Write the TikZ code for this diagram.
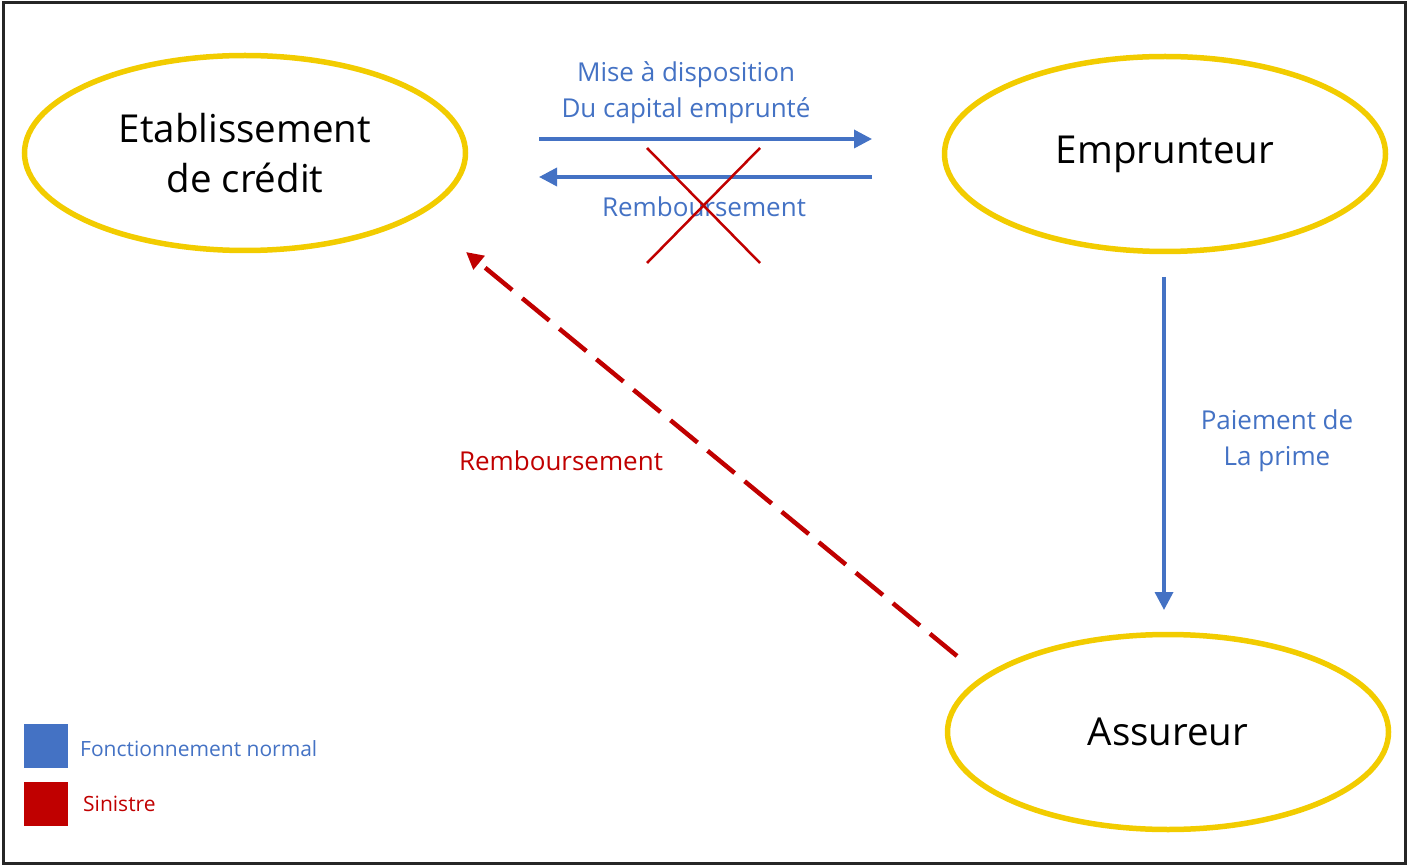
\documentclass[tikz,border=0pt]{standalone}
\usepackage{fontspec}
\setmainfont{Open Sans}
\usetikzlibrary{shapes.geometric,arrows.meta}
\definecolor{gold}{RGB}{242,204,0}
\definecolor{myblue}{RGB}{68,114,196}
\definecolor{myred}{RGB}{192,0,0}
\begin{document}
\begin{tikzpicture}[x=1pt,y=-1pt,
  actor/.style={ellipse,draw=gold,line width=5.5pt,fill=white,inner sep=0pt,
    minimum width=441pt,minimum height=195pt,align=center,
    font=\fontsize{38.5}{50}\selectfont},
  bluearrow/.style={draw=myblue,line width=3.5pt,-{Triangle[length=18pt,width=18pt]}},
  bluelbl/.style={text=myblue,align=center,font=\fontsize{26}{36}\selectfont,inner sep=0pt},
  redlbl/.style={text=myred,align=center,font=\fontsize{26}{36}\selectfont,inner sep=0pt},
  cross/.style={draw=myred,line width=2.5pt},
  legbox/.style={minimum width=44pt,minimum height=44pt,inner sep=0pt},
  legtxt/.style={anchor=west,inner sep=0pt,font=\fontsize{21}{24}\selectfont}]
\useasboundingbox (0,0) rectangle (1410,866);
\draw[line width=3pt,black!85] (3,2.5) rectangle (1405.5,863.5);

\node[actor] (etab) at (245,153) {Etablissement\\de crédit};
\node[actor] (empr) at (1165,154) {Emprunteur};
\node[actor] (assu) at (1168,732) {Assureur};

% top arrows
\coordinate (t1) at (539,139);
\coordinate (t2) at (872,139);
\coordinate (b1) at (872,177);
\coordinate (b2) at (539,177);
\draw[bluearrow] (t1) -- (t2);
\draw[bluearrow] (b1) -- (b2);
\node[bluelbl] (mise) at (686,93) {Mise à disposition\\Du capital emprunté};
\node[bluelbl] (remb1) at (704,207) {Remboursement};

% cross
\coordinate (x1) at (647,148);
\coordinate (x2) at (760,263);
\coordinate (x3) at (760,148);
\coordinate (x4) at (647,263);
\draw[cross] (x1) -- (x2);
\draw[cross] (x3) -- (x4);

% vertical arrow
\coordinate (v1) at (1164,277);
\coordinate (v2) at (1164,610);
\draw[bluearrow] (v1) -- (v2);
\node[bluelbl] (prime) at (1277,441) {Paiement de\\La prime};

% red dashed arrow
\coordinate (r1) at (957,656);
\coordinate (r2) at (466,252);
\draw[draw=myred,line width=4.5pt,dash pattern=on 35pt off 13pt,
  -{Triangle[length=17pt,width=17pt]}] (r1) -- (r2);
\node[redlbl] (remb2) at (561,461) {Remboursement};

% legend
\node[legbox,fill=myblue] (lb) at (45.5,746) {};
\node[legbox,fill=myred] (lr) at (45.5,804) {};
\node[legtxt,text=myblue] (lbt) at (80,749) {Fonctionnement normal};
\node[legtxt,text=myred] (lrt) at (83,804) {Sinistre};
\end{tikzpicture}
\end{document}
